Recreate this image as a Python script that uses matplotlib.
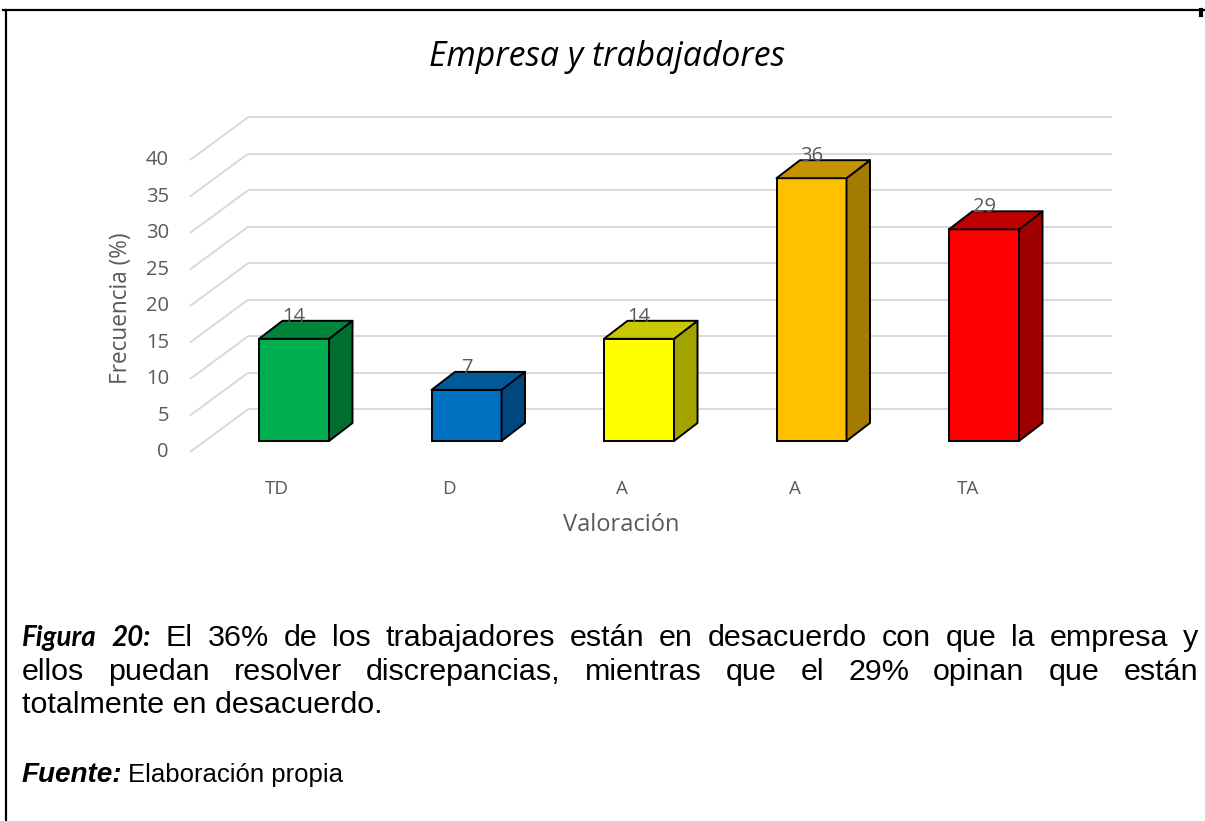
import matplotlib
matplotlib.use("Agg")
import matplotlib.pyplot as plt
from matplotlib.patches import Polygon
from matplotlib.lines import Line2D

# ---------------- data ----------------
categories = ["TD", "D", "A", "A", "TA"]
values = [14, 7, 14, 36, 29]
yticks = [0, 5, 10, 15, 20, 25, 30, 35, 40]
title = "Empresa y trabajadores"
xlabel = "Valoración"
ylabel = "Frecuencia (%)"

front_colors = ["#00B050", "#0070C0", "#FFFF00", "#FFC000", "#FF0000"]
top_colors = ["#00843C", "#005A9A", "#C8C800", "#C49400", "#C00000"]
side_colors = ["#006E30", "#00467F", "#A3A300", "#A27B00", "#A00000"]

caption_l1 = ["El", "36%", "de", "los", "trabajadores", "están", "en", "desacuerdo",
              "con", "que", "la", "empresa", "y"]
caption_l2 = ["ellos", "puedan", "resolver", "discrepancias,", "mientras", "que", "el",
              "29%", "opinan", "que", "están"]
caption_l3 = "totalmente en desacuerdo."
fig_label = ["Figura", "20:"]
source_label = "Fuente:"
source_text = "Elaboración propia"

# ---------------- layout (pixels) ----------------
FW, FH = 1205, 821
AX_L, AX_R, AX_T, AX_B = 150, 1150, 90, 480
X0_PX, CAT_PX = 294.0, 172.5        # centre of first bar, spacing
Y0_PX, UNIT_PX = 441.0, 7.3         # bar base, pixels per unit
BAR_W_PX = 70
BAR_DX_PX, BAR_DY_PX = 23.5, 18.0
BACK_X0, BACK_X1, BACK_Y0 = 248, 1112, 409.3
FRONT_X0, FRONT_Y0 = 190, 452

fig = plt.figure(figsize=(FW / 100, FH / 100), dpi=100)
fig.patch.set_facecolor("white")

ax = fig.add_axes([AX_L / FW, 1 - AX_B / FH, (AX_R - AX_L) / FW, (AX_B - AX_T) / FH])
ax.set_xlim((AX_L - X0_PX) / CAT_PX, (AX_R - X0_PX) / CAT_PX)
ax.set_ylim((Y0_PX - AX_B) / UNIT_PX, (Y0_PX - AX_T) / UNIT_PX)
ax.axis("off")


def px2x(px):
    return (px - X0_PX) / CAT_PX


def px2y(py):
    return (Y0_PX - py) / UNIT_PX


grid_c = "#D9D9D9"
back_dy = px2y(BACK_Y0)
front_dy = px2y(FRONT_Y0)
bx0, bx1, fx0 = px2x(BACK_X0), px2x(BACK_X1), px2x(FRONT_X0)
for g in yticks:
    ax.plot([bx0, bx1], [g + back_dy, g + back_dy], color=grid_c, lw=1.4, zorder=1,
            solid_capstyle="butt")
    ax.plot([fx0, bx0], [g + front_dy, g + back_dy], color=grid_c, lw=1.4, zorder=1,
            solid_capstyle="butt")
    ax.text(px2x(FRONT_X0 - 21), g + front_dy, str(g), ha="right", va="center",
            fontsize=14.5, color="#595959", family="Open Sans")

# bars
x = list(range(len(values)))
bw = BAR_W_PX / CAT_PX
ddx = BAR_DX_PX / CAT_PX
ddy = BAR_DY_PX / UNIT_PX
ax.bar(x, values, width=bw, color=front_colors, edgecolor="black", linewidth=1.4, zorder=3)
for i, v in enumerate(values):
    xl, xr = i - bw / 2, i + bw / 2
    top = Polygon([(xl, v), (xr, v), (xr + ddx, v + ddy), (xl + ddx, v + ddy)],
                  closed=True, facecolor=top_colors[i], edgecolor="black", lw=1.4,
                  zorder=3, joinstyle="round")
    side = Polygon([(xr, 0), (xr + ddx, ddy), (xr + ddx, v + ddy), (xr, v)],
                   closed=True, facecolor=side_colors[i], edgecolor="black", lw=1.4,
                   zorder=3, joinstyle="round")
    ax.add_patch(side)
    ax.add_patch(top)
    ax.text(i, v + ddy - 0.15, str(v), ha="center", va="baseline", fontsize=14.5,
            color="#595959", family="Open Sans", zorder=5)

# category labels
span = (BACK_X1 - BACK_X0) / len(categories)
for i, c in enumerate(categories):
    ax.text(px2x(FRONT_X0 + span * (i + 0.5)), px2y(489), c, ha="center", va="center",
            fontsize=13.5, color="#595959", family="Open Sans")

renderer = fig.canvas.get_renderer()


def fit_w(t, target):
    w = t.get_window_extent(renderer).width
    t.set_fontsize(t.get_fontsize() * target / w)


def fit_h(t, target):
    h = t.get_window_extent(renderer).height
    t.set_fontsize(t.get_fontsize() * target / h)


def fxy(px, py):
    return px / FW, 1 - py / FH


# axis titles
t = fig.text(*fxy(621, 525), xlabel, ha="center", va="center", fontsize=14,
             color="#595959", family="Open Sans")
fit_w(t, 117)
t = fig.text(*fxy(121, 308), ylabel, ha="center", va="center", rotation=90, fontsize=14,
             color="#595959", family="Open Sans")
fit_h(t, 153)

# chart title
t = fig.text(*fxy(607, 57), title, ha="center", va="center", fontsize=20,
             style="italic", color="black", family="Open Sans")
fit_w(t, 357)

# frame
fig.add_artist(Line2D([3 / FW, 1], [1 - 10.5 / FH] * 2, color="black", lw=1.6,
                      transform=fig.transFigure))
fig.add_artist(Line2D([5.5 / FW, 5.5 / FW], [0, 1 - 10.5 / FH], color="black", lw=1.6,
                      transform=fig.transFigure))
fig.add_artist(Line2D([1201 / FW, 1201 / FW], [1 - 10.5 / FH, 1 - 15 / FH], color="black",
                      lw=3, transform=fig.transFigure))

# caption
body = dict(family="Liberation Sans", fontsize=18, color="black", va="baseline")
bi_fig = dict(family="Lato", fontsize=17, color="black", va="baseline",
              weight="bold", style="italic")

t3 = fig.text(*fxy(22, 713), caption_l3, ha="left", **body)
fit_w(t3, 360)
body["fontsize"] = t3.get_fontsize()


def justify(words, styles, y, x0, x1):
    objs = [fig.text(*fxy(0, y), w, ha="left", **s) for w, s in zip(words, styles)]
    widths = [o.get_window_extent(renderer).width for o in objs]
    gap = (x1 - x0 - sum(widths)) / (len(objs) - 1)
    cur = x0
    for o, w in zip(objs, widths):
        o.set_x(cur / FW)
        cur += w + gap
    return objs


tmp = fig.text(0, 0, " ".join(fig_label), **bi_fig)
fit_w(tmp, 120)
bi_fig["fontsize"] = tmp.get_fontsize()
tmp.remove()

justify(fig_label + caption_l1, [bi_fig] * len(fig_label) + [body] * len(caption_l1),
        646, 22, 1198)
justify(caption_l2, [body] * len(caption_l2), 679.5, 22, 1198)

src_bold = dict(family="Liberation Sans", fontsize=15, color="black", va="baseline",
                weight="bold", style="italic")
t = fig.text(*fxy(22, 782), source_label, ha="left", **src_bold)
fit_w(t, 101)
t2 = fig.text(*fxy(128, 782), source_text, ha="left", family="Liberation Sans",
              fontsize=15, color="black", va="baseline")
fit_w(t2, 215)

fig.savefig("out.png", dpi=100, facecolor="white")
